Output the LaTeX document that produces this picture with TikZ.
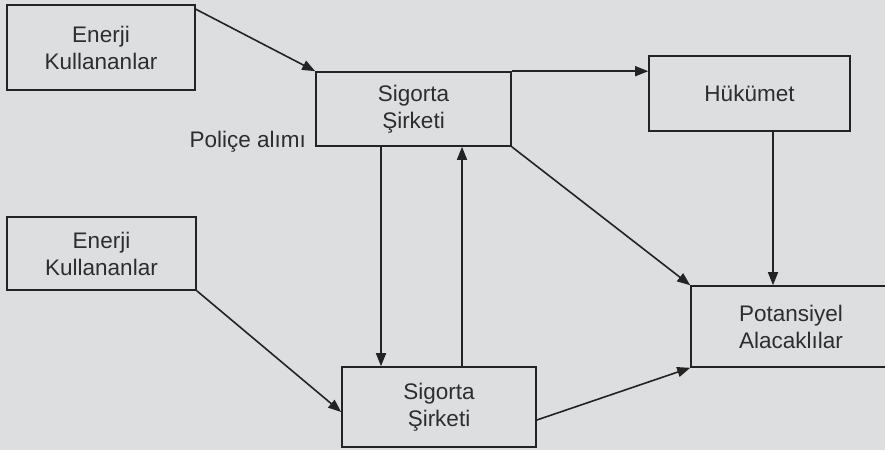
\documentclass[tikz,border=0pt]{standalone}
\usepackage{fontspec}
\setmainfont{Liberation Sans}
\usetikzlibrary{arrows.meta,calc}
\definecolor{paper}{RGB}{221,222,224}
\definecolor{ink}{RGB}{35,35,35}
\definecolor{txt}{RGB}{45,45,45}
\tikzset{
  box/.style={draw=ink, line width=1.6pt, text=txt, align=center, inner sep=0pt,
    font=\fontsize{22.5}{27}\selectfont},
  conn/.style={draw=ink, line width=1.6pt, -{Triangle[length=13pt,width=10pt]}},
  lbl/.style={text=txt, inner sep=0pt, font=\fontsize{22.5}{27}\selectfont}
}
\begin{document}
\begin{tikzpicture}[x=1pt,y=-1pt]
\fill[paper] (0,0) rectangle (885,450);
\useasboundingbox (0,0) rectangle (885,450);
\node[box, minimum width=188pt, minimum height=85pt] (e1) at (101,47.5) {Enerji\\Kullananlar};
\node[box, minimum width=189pt, minimum height=73pt] (e2) at (101.5,253.5) {Enerji\\Kullananlar};
\node[box, minimum width=195pt, minimum height=74pt] (s1) at (413.5,109) {Sigorta\\Şirketi};
\node[box, minimum width=201pt, minimum height=75pt] (h) at (749.5,93.5) {Hükümet};
\node[box, minimum width=200pt, minimum height=81pt] (p) at (791,326.5) {Potansiyel\\Alacaklılar};
\node[box, minimum width=194pt, minimum height=80pt] (s2) at (439,407) {Sigorta\\Şirketi};
\node[lbl, anchor=east] (pa) at ([xshift=-9pt,yshift=5pt]s1.south west) {Poliçe alımı};
\draw[conn] ([yshift=-5pt]e1.north east) -- (s1.north west);
\draw[conn] (s1.north east) -- (s1.north east -| h.west);
\draw[conn] ([xshift=23.5pt]h.south) -- ([xshift=23.5pt]h.south |- p.north);
\draw[conn] (s1.south east) -- (p.north west);
\draw[conn] ([xshift=-32.5pt]s1.south) -- ([xshift=-32.5pt]s1.south |- s2.north);
\draw[conn] ([xshift=23pt]s2.north) -- ([xshift=23pt]s2.north |- s1.south);
\draw[conn] (e2.south east) -- ([yshift=-5pt]s2.west);
\draw[conn] ([yshift=-13pt]s2.east) -- (p.south west);
\end{tikzpicture}
\end{document}
